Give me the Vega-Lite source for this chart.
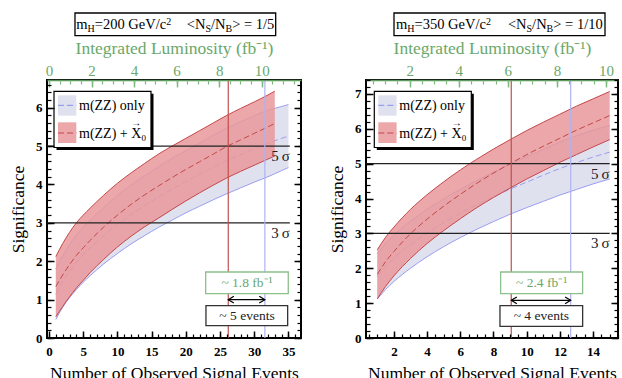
{
  "$schema": "https://vega.github.io/schema/vega-lite/v6.json",
  "background": "white",
  "padding": {"left": 8, "top": 11, "right": 0, "bottom": 0},
  "autosize": {"type": "pad"},
  "config": {
    "view": {"stroke": "black", "strokeWidth": 2},
    "font": "Liberation Serif",
    "axis": {"grid": false}
  },
  "datasets": {
    "left": [
      {"series": "m(ZZ) only", "n": 1, "lo": 0.48, "mid": 1.14, "hi": 1.80},
      {"series": "m(ZZ) only", "n": 2, "lo": 0.80, "mid": 1.47, "hi": 2.14},
      {"series": "m(ZZ) only", "n": 3, "lo": 1.05, "mid": 1.74, "hi": 2.43},
      {"series": "m(ZZ) only", "n": 4, "lo": 1.26, "mid": 1.97, "hi": 2.68},
      {"series": "m(ZZ) only", "n": 5, "lo": 1.45, "mid": 2.17, "hi": 2.88},
      {"series": "m(ZZ) only", "n": 6, "lo": 1.62, "mid": 2.34, "hi": 3.06},
      {"series": "m(ZZ) only", "n": 8, "lo": 1.93, "mid": 2.67, "hi": 3.40},
      {"series": "m(ZZ) only", "n": 10, "lo": 2.20, "mid": 2.96, "hi": 3.71},
      {"series": "m(ZZ) only", "n": 12, "lo": 2.45, "mid": 3.22, "hi": 3.99},
      {"series": "m(ZZ) only", "n": 14, "lo": 2.67, "mid": 3.45, "hi": 4.23},
      {"series": "m(ZZ) only", "n": 16, "lo": 2.88, "mid": 3.67, "hi": 4.46},
      {"series": "m(ZZ) only", "n": 18, "lo": 3.07, "mid": 3.88, "hi": 4.68},
      {"series": "m(ZZ) only", "n": 20, "lo": 3.26, "mid": 4.07, "hi": 4.88},
      {"series": "m(ZZ) only", "n": 22, "lo": 3.43, "mid": 4.26, "hi": 5.08},
      {"series": "m(ZZ) only", "n": 24, "lo": 3.60, "mid": 4.44, "hi": 5.28},
      {"series": "m(ZZ) only", "n": 26, "lo": 3.76, "mid": 4.62, "hi": 5.47},
      {"series": "m(ZZ) only", "n": 28, "lo": 3.91, "mid": 4.77, "hi": 5.63},
      {"series": "m(ZZ) only", "n": 30, "lo": 4.06, "mid": 4.93, "hi": 5.79},
      {"series": "m(ZZ) only", "n": 32, "lo": 4.20, "mid": 5.07, "hi": 5.93},
      {"series": "m(ZZ) only", "n": 34, "lo": 4.36, "mid": 5.20, "hi": 6.03},
      {"series": "m(ZZ) only", "n": 35, "lo": 4.44, "mid": 5.26, "hi": 6.08},
      {"series": "m(ZZ) + X\u20d7\u2080", "n": 1, "lo": 0.55, "mid": 1.34, "hi": 2.12},
      {"series": "m(ZZ) + X\u20d7\u2080", "n": 2, "lo": 0.82, "mid": 1.64, "hi": 2.46},
      {"series": "m(ZZ) + X\u20d7\u2080", "n": 3, "lo": 1.07, "mid": 1.91, "hi": 2.75},
      {"series": "m(ZZ) + X\u20d7\u2080", "n": 4, "lo": 1.30, "mid": 2.15, "hi": 3.00},
      {"series": "m(ZZ) + X\u20d7\u2080", "n": 5, "lo": 1.50, "mid": 2.35, "hi": 3.20},
      {"series": "m(ZZ) + X\u20d7\u2080", "n": 6, "lo": 1.70, "mid": 2.54, "hi": 3.38},
      {"series": "m(ZZ) + X\u20d7\u2080", "n": 8, "lo": 2.05, "mid": 2.89, "hi": 3.72},
      {"series": "m(ZZ) + X\u20d7\u2080", "n": 10, "lo": 2.37, "mid": 3.20, "hi": 4.03},
      {"series": "m(ZZ) + X\u20d7\u2080", "n": 12, "lo": 2.65, "mid": 3.48, "hi": 4.30},
      {"series": "m(ZZ) + X\u20d7\u2080", "n": 14, "lo": 2.90, "mid": 3.73, "hi": 4.55},
      {"series": "m(ZZ) + X\u20d7\u2080", "n": 16, "lo": 3.12, "mid": 3.96, "hi": 4.79},
      {"series": "m(ZZ) + X\u20d7\u2080", "n": 18, "lo": 3.35, "mid": 4.18, "hi": 5.00},
      {"series": "m(ZZ) + X\u20d7\u2080", "n": 20, "lo": 3.57, "mid": 4.39, "hi": 5.20},
      {"series": "m(ZZ) + X\u20d7\u2080", "n": 22, "lo": 3.78, "mid": 4.59, "hi": 5.40},
      {"series": "m(ZZ) + X\u20d7\u2080", "n": 24, "lo": 3.98, "mid": 4.79, "hi": 5.60},
      {"series": "m(ZZ) + X\u20d7\u2080", "n": 26, "lo": 4.17, "mid": 4.99, "hi": 5.80},
      {"series": "m(ZZ) + X\u20d7\u2080", "n": 28, "lo": 4.34, "mid": 5.16, "hi": 5.98},
      {"series": "m(ZZ) + X\u20d7\u2080", "n": 30, "lo": 4.50, "mid": 5.33, "hi": 6.15},
      {"series": "m(ZZ) + X\u20d7\u2080", "n": 32, "lo": 4.66, "mid": 5.50, "hi": 6.33},
      {"series": "m(ZZ) + X\u20d7\u2080", "n": 33, "lo": 4.74, "mid": 5.59, "hi": 6.43}
    ],
    "right": [
      {"series": "m(ZZ) only", "n": 1, "lo": 1.12, "mid": 1.77, "hi": 2.42},
      {"series": "m(ZZ) only", "n": 1.5, "lo": 1.39, "mid": 2.05, "hi": 2.71},
      {"series": "m(ZZ) only", "n": 2, "lo": 1.62, "mid": 2.29, "hi": 2.95},
      {"series": "m(ZZ) only", "n": 3, "lo": 2.00, "mid": 2.68, "hi": 3.35},
      {"series": "m(ZZ) only", "n": 4, "lo": 2.33, "mid": 3.01, "hi": 3.69},
      {"series": "m(ZZ) only", "n": 5, "lo": 2.62, "mid": 3.31, "hi": 3.99},
      {"series": "m(ZZ) only", "n": 6, "lo": 2.88, "mid": 3.58, "hi": 4.27},
      {"series": "m(ZZ) only", "n": 7, "lo": 3.12, "mid": 3.82, "hi": 4.52},
      {"series": "m(ZZ) only", "n": 8, "lo": 3.34, "mid": 4.05, "hi": 4.76},
      {"series": "m(ZZ) only", "n": 9, "lo": 3.55, "mid": 4.27, "hi": 4.99},
      {"series": "m(ZZ) only", "n": 10, "lo": 3.74, "mid": 4.47, "hi": 5.20},
      {"series": "m(ZZ) only", "n": 11, "lo": 3.92, "mid": 4.67, "hi": 5.41},
      {"series": "m(ZZ) only", "n": 12, "lo": 4.10, "mid": 4.86, "hi": 5.62},
      {"series": "m(ZZ) only", "n": 13, "lo": 4.26, "mid": 5.03, "hi": 5.80},
      {"series": "m(ZZ) only", "n": 14, "lo": 4.42, "mid": 5.19, "hi": 5.96},
      {"series": "m(ZZ) only", "n": 15, "lo": 4.56, "mid": 5.33, "hi": 6.10},
      {"series": "m(ZZ) + X\u20d7\u2080", "n": 1, "lo": 1.12, "mid": 1.83, "hi": 2.53},
      {"series": "m(ZZ) + X\u20d7\u2080", "n": 1.5, "lo": 1.48, "mid": 2.19, "hi": 2.89},
      {"series": "m(ZZ) + X\u20d7\u2080", "n": 2, "lo": 1.78, "mid": 2.48, "hi": 3.18},
      {"series": "m(ZZ) + X\u20d7\u2080", "n": 3, "lo": 2.28, "mid": 2.99, "hi": 3.69},
      {"series": "m(ZZ) + X\u20d7\u2080", "n": 4, "lo": 2.71, "mid": 3.41, "hi": 4.11},
      {"series": "m(ZZ) + X\u20d7\u2080", "n": 5, "lo": 3.08, "mid": 3.78, "hi": 4.48},
      {"series": "m(ZZ) + X\u20d7\u2080", "n": 6, "lo": 3.42, "mid": 4.12, "hi": 4.82},
      {"series": "m(ZZ) + X\u20d7\u2080", "n": 7, "lo": 3.74, "mid": 4.44, "hi": 5.13},
      {"series": "m(ZZ) + X\u20d7\u2080", "n": 8, "lo": 4.03, "mid": 4.73, "hi": 5.42},
      {"series": "m(ZZ) + X\u20d7\u2080", "n": 9, "lo": 4.30, "mid": 5.00, "hi": 5.69},
      {"series": "m(ZZ) + X\u20d7\u2080", "n": 10, "lo": 4.56, "mid": 5.26, "hi": 5.95},
      {"series": "m(ZZ) + X\u20d7\u2080", "n": 11, "lo": 4.80, "mid": 5.50, "hi": 6.19},
      {"series": "m(ZZ) + X\u20d7\u2080", "n": 12, "lo": 5.04, "mid": 5.73, "hi": 6.42},
      {"series": "m(ZZ) + X\u20d7\u2080", "n": 13, "lo": 5.26, "mid": 5.96, "hi": 6.65},
      {"series": "m(ZZ) + X\u20d7\u2080", "n": 14, "lo": 5.48, "mid": 6.17, "hi": 6.86},
      {"series": "m(ZZ) + X\u20d7\u2080", "n": 15, "lo": 5.69, "mid": 6.38, "hi": 7.07}
    ],
    "sigma_levels": [
      {"sigma": 3, "label": "3\u2009\u03c3"},
      {"sigma": 5, "label": "5\u2009\u03c3"}
    ],
    "left_marks": [
      {"series": "m(ZZ) + X\u20d7\u2080", "n": 26.2},
      {"series": "m(ZZ) only", "n": 31.55}
    ],
    "right_marks": [
      {"series": "m(ZZ) + X\u20d7\u2080", "n": 9.07},
      {"series": "m(ZZ) only", "n": 12.65}
    ]
  },
  "spacing": 65,
  "bounds": "flush",
  "resolve": {"scale": {"fill": "independent", "stroke": "independent"}},
  "hconcat": [
    {
      "width": 254,
      "height": 258,
      "layer": [
        {
          "layer": [
            {
              "data": {"name": "left"},
              "transform": [{"filter": "datum.series == 'm(ZZ) only'"}],
              "mark": {"type": "area", "interpolate": "monotone"},
              "encoding": {
                "x": {"field": "n", "type": "quantitative", "scale": {"domain": [-0.29, 36.83], "nice": false, "zero": false},
                  "axis": {"orient": "bottom", "values": [0, 5, 10, 15, 20, 25, 30, 35], "format": "d", "tickSize": -7, "tickWidth": 1.5, "tickColor": "black", "domain": false, "labelFont": "Liberation Serif", "labelFontSize": 13, "labelFontWeight": "bold", "labelColor": "black", "labelPadding": 14, "labelFlush": false, "labelOverlap": false, "title": "Number of Observed Signal Events", "titleFont": "Liberation Serif", "titleFontSize": 17.5, "titleFontWeight": "normal", "titleColor": "black", "titlePadding": 6, "grid": false, "zindex": 2}},
                "y": {"field": "lo", "type": "quantitative", "scale": {"domain": [0, 6.72], "nice": false, "zero": false},
                  "axis": {"orient": "left", "values": [0, 1, 2, 3, 4, 5, 6], "format": "d", "tickSize": -7, "tickWidth": 1.5, "tickColor": "black", "domain": false, "labelFont": "Liberation Serif", "labelFontSize": 13, "labelFontWeight": "bold", "labelColor": "black", "labelPadding": 12, "labelFlush": false, "labelOverlap": false, "title": "Significance", "titleFont": "Liberation Serif", "titleFontSize": 17.5, "titleFontWeight": "normal", "titleColor": "black", "titlePadding": 8, "grid": false, "zindex": 2}},
                "y2": {"field": "hi"},
                "fill": {"field": "series", "type": "nominal", "scale": {"domain": ["m(ZZ) only", "m(ZZ) + X\u20d7\u2080"], "range": ["#e0e1ef", "#e7989a"]}, "legend": null}
              }
            },
            {
              "data": {"name": "left"},
              "transform": [{"filter": "datum.series == 'm(ZZ) only'"}],
              "mark": {"type": "line", "interpolate": "monotone", "strokeWidth": 1},
              "encoding": {
                "x": {"field": "n", "type": "quantitative", "scale": {"domain": [-0.29, 36.83], "nice": false, "zero": false}, "axis": null},
                "y": {"field": "lo", "type": "quantitative", "scale": {"domain": [0, 6.72], "nice": false, "zero": false},
                  "axis": {"orient": "right", "values": [0, 1, 2, 3, 4, 5, 6], "tickSize": -7, "tickWidth": 1.5, "tickColor": "black", "domain": false, "labels": false, "title": null, "grid": false, "zindex": 2}},
                "stroke": {"field": "series", "type": "nominal", "scale": {"domain": ["m(ZZ) only", "m(ZZ) + X\u20d7\u2080"], "range": ["#9a9ef0", "#c4484a"]}, "legend": null}
              }
            },
            {
              "data": {"name": "left"},
              "transform": [{"filter": "datum.series == 'm(ZZ) only'"}],
              "mark": {"type": "line", "interpolate": "monotone", "strokeWidth": 1},
              "encoding": {
                "x": {"field": "n", "type": "quantitative", "scale": {"domain": [-0.29, 36.83], "nice": false, "zero": false}, "axis": null},
                "y": {"field": "hi", "type": "quantitative", "scale": {"domain": [0, 6.72], "nice": false, "zero": false},
                  "axis": {"orient": "right", "tickCount": 34, "tickSize": -4, "tickWidth": 1.2, "tickColor": "black", "domain": false, "labels": false, "title": null, "grid": false, "zindex": 2}},
                "stroke": {"field": "series", "type": "nominal", "scale": {"domain": ["m(ZZ) only", "m(ZZ) + X\u20d7\u2080"], "range": ["#9a9ef0", "#c4484a"]}, "legend": null}
              }
            },
            {
              "data": {"name": "left"},
              "transform": [{"filter": "datum.series == 'm(ZZ) only'"}],
              "mark": {"type": "line", "interpolate": "monotone", "strokeWidth": 1, "strokeDash": [6, 3]},
              "encoding": {
                "x": {"field": "n", "type": "quantitative", "scale": {"domain": [-0.29, 36.83], "nice": false, "zero": false}, "axis": null},
                "y": {"field": "mid", "type": "quantitative", "scale": {"domain": [0, 6.72], "nice": false, "zero": false}, "axis": null},
                "stroke": {"field": "series", "type": "nominal", "scale": {"domain": ["m(ZZ) only", "m(ZZ) + X\u20d7\u2080"], "range": ["#9a9ef0", "#c4484a"]}, "legend": null}
              }
            },
            {
              "data": {"name": "left"},
              "transform": [{"filter": "datum.series != 'm(ZZ) only'"}],
              "mark": {"type": "area", "interpolate": "monotone", "opacity": 0.85},
              "encoding": {
                "x": {"field": "n", "type": "quantitative", "scale": {"domain": [-0.29, 36.83], "nice": false, "zero": false},
                  "axis": {"orient": "bottom", "tickCount": 37, "tickSize": -4, "tickWidth": 1.2, "tickColor": "black", "domain": false, "labels": false, "title": null, "grid": false, "zindex": 2}},
                "y": {"field": "lo", "type": "quantitative", "scale": {"domain": [0, 6.72], "nice": false, "zero": false},
                  "axis": {"orient": "left", "tickCount": 34, "tickSize": -4, "tickWidth": 1.2, "tickColor": "black", "domain": false, "labels": false, "title": null, "grid": false, "zindex": 2}},
                "y2": {"field": "hi"},
                "fill": {"field": "series", "type": "nominal", "scale": {"domain": ["m(ZZ) only", "m(ZZ) + X\u20d7\u2080"], "range": ["#e0e1ef", "#e7989a"]}, "legend": null}
              }
            },
            {
              "data": {"name": "left"},
              "transform": [{"filter": "datum.series != 'm(ZZ) only'"}],
              "mark": {"type": "line", "interpolate": "monotone", "strokeWidth": 1},
              "encoding": {
                "x": {"field": "n", "type": "quantitative", "scale": {"domain": [-0.29, 36.83], "nice": false, "zero": false}, "axis": null},
                "y": {"field": "lo", "type": "quantitative", "scale": {"domain": [0, 6.72], "nice": false, "zero": false}, "axis": null},
                "stroke": {"field": "series", "type": "nominal", "scale": {"domain": ["m(ZZ) only", "m(ZZ) + X\u20d7\u2080"], "range": ["#9a9ef0", "#c4484a"]}, "legend": null}
              }
            },
            {
              "data": {"name": "left"},
              "transform": [{"filter": "datum.series != 'm(ZZ) only'"}],
              "mark": {"type": "line", "interpolate": "monotone", "strokeWidth": 1},
              "encoding": {
                "x": {"field": "n", "type": "quantitative", "scale": {"domain": [-0.29, 36.83], "nice": false, "zero": false}, "axis": null},
                "y": {"field": "hi", "type": "quantitative", "scale": {"domain": [0, 6.72], "nice": false, "zero": false}, "axis": null},
                "stroke": {"field": "series", "type": "nominal", "scale": {"domain": ["m(ZZ) only", "m(ZZ) + X\u20d7\u2080"], "range": ["#9a9ef0", "#c4484a"]}, "legend": null}
              }
            },
            {
              "data": {"name": "left"},
              "transform": [{"filter": "datum.series != 'm(ZZ) only'"}],
              "mark": {"type": "line", "interpolate": "monotone", "strokeWidth": 1, "strokeDash": [6, 3]},
              "encoding": {
                "x": {"field": "n", "type": "quantitative", "scale": {"domain": [-0.29, 36.83], "nice": false, "zero": false}, "axis": null},
                "y": {"field": "mid", "type": "quantitative", "scale": {"domain": [0, 6.72], "nice": false, "zero": false}, "axis": null},
                "stroke": {"field": "series", "type": "nominal", "scale": {"domain": ["m(ZZ) only", "m(ZZ) + X\u20d7\u2080"], "range": ["#9a9ef0", "#c4484a"]}, "legend": null}
              }
            },
            {
              "data": {"name": "sigma_levels"},
              "mark": {"type": "rule", "color": "#222222", "strokeWidth": 1.3},
              "encoding": {
                "x": {"datum": -0.29, "type": "quantitative", "scale": {"domain": [-0.29, 36.83], "nice": false, "zero": false}, "axis": null},
                "x2": {"datum": 35.2},
                "y": {"field": "sigma", "type": "quantitative", "scale": {"domain": [0, 6.72], "nice": false, "zero": false}, "axis": null}
              }
            },
            {
              "data": {"name": "sigma_levels"},
              "mark": {"type": "text", "align": "right", "baseline": "top", "dy": 3, "fontSize": 15, "font": "Liberation Serif", "color": "#222222"},
              "encoding": {
                "x": {"datum": 35.2, "type": "quantitative", "scale": {"domain": [-0.29, 36.83], "nice": false, "zero": false}, "axis": null},
                "y": {"field": "sigma", "type": "quantitative", "scale": {"domain": [0, 6.72], "nice": false, "zero": false}, "axis": null},
                "text": {"field": "label"}
              }
            },
            {
              "data": {"name": "left_marks"},
              "mark": {"type": "rule", "strokeWidth": 1.2},
              "encoding": {
                "x": {"field": "n", "type": "quantitative", "scale": {"domain": [-0.29, 36.83], "nice": false, "zero": false}, "axis": null},
                "stroke": {"condition": {"test": "datum.series == 'm(ZZ) only'", "value": "#aeb2f2"}, "value": "#c0504d"}
              }
            },
            {
              "data": {"values": [{}]},
              "mark": {"type": "rect", "fill": "white", "stroke": "#8cc08c", "strokeWidth": 1.3},
              "encoding": {
                "x": {"datum": 22.9, "type": "quantitative", "scale": {"domain": [-0.29, 36.83], "nice": false, "zero": false}, "axis": null},
                "x2": {"datum": 34.97},
                "y": {"datum": 1.154, "type": "quantitative", "scale": {"domain": [0, 6.72], "nice": false, "zero": false}, "axis": null},
                "y2": {"datum": 1.719}
              }
            },
            {
              "data": {"values": [{}]},
              "mark": {"type": "text", "text": "~ 1.8 fb\u207b\u00b9", "align": "center", "baseline": "middle", "fontSize": 13.5, "font": "Liberation Serif", "color": "#6aa86a"},
              "encoding": {
                "x": {"datum": 28.94, "type": "quantitative", "scale": {"domain": [-0.29, 36.83], "nice": false, "zero": false}, "axis": null},
                "y": {"datum": 1.432, "type": "quantitative", "scale": {"domain": [0, 6.72], "nice": false, "zero": false}, "axis": null}
              }
            },
            {
              "data": {"values": [{}]},
              "mark": {"type": "rule", "color": "black", "strokeWidth": 1.2},
              "encoding": {
                "x": {"datum": 26.2, "type": "quantitative", "scale": {"domain": [-0.29, 36.83], "nice": false, "zero": false}, "axis": null},
                "x2": {"datum": 31.55},
                "y": {"datum": 0.998, "type": "quantitative", "scale": {"domain": [0, 6.72], "nice": false, "zero": false}, "axis": null}
              }
            },
            {
              "data": {"values": [{}]},
              "mark": {"type": "point", "shape": "M1.4,-0.85L0,0L1.4,0.85", "size": 64, "filled": false, "stroke": "black", "strokeWidth": 1.2, "opacity": 1},
              "encoding": {
                "x": {"datum": 26.2, "type": "quantitative", "scale": {"domain": [-0.29, 36.83], "nice": false, "zero": false}, "axis": null},
                "y": {"datum": 0.998, "type": "quantitative", "scale": {"domain": [0, 6.72], "nice": false, "zero": false}, "axis": null}
              }
            },
            {
              "data": {"values": [{}]},
              "mark": {"type": "point", "shape": "M-1.4,-0.85L0,0L-1.4,0.85", "size": 64, "filled": false, "stroke": "black", "strokeWidth": 1.2, "opacity": 1},
              "encoding": {
                "x": {"datum": 31.55, "type": "quantitative", "scale": {"domain": [-0.29, 36.83], "nice": false, "zero": false}, "axis": null},
                "y": {"datum": 0.998, "type": "quantitative", "scale": {"domain": [0, 6.72], "nice": false, "zero": false}, "axis": null}
              }
            },
            {
              "data": {"values": [{}]},
              "mark": {"type": "rect", "fill": "white", "stroke": "#333333", "strokeWidth": 1.3},
              "encoding": {
                "x": {"datum": 22.94, "type": "quantitative", "scale": {"domain": [-0.29, 36.83], "nice": false, "zero": false}, "axis": null},
                "x2": {"datum": 34.88},
                "y": {"datum": 0.321, "type": "quantitative", "scale": {"domain": [0, 6.72], "nice": false, "zero": false}, "axis": null},
                "y2": {"datum": 0.842}
              }
            },
            {
              "data": {"values": [{}]},
              "mark": {"type": "text", "text": "~ 5 events", "align": "center", "baseline": "middle", "fontSize": 13.5, "font": "Liberation Serif", "color": "#222222"},
              "encoding": {
                "x": {"datum": 28.94, "type": "quantitative", "scale": {"domain": [-0.29, 36.83], "nice": false, "zero": false}, "axis": null},
                "y": {"datum": 0.574, "type": "quantitative", "scale": {"domain": [0, 6.72], "nice": false, "zero": false}, "axis": null}
              }
            },
            {
              "data": {"values": [{}]},
              "mark": {"type": "rect", "fill": "black"},
              "encoding": {
                "x": {"datum": 1.098, "type": "quantitative", "scale": {"domain": [-0.29, 36.83], "nice": false, "zero": false}, "axis": null},
                "x2": {"datum": 15.273},
                "y": {"datum": 4.897, "type": "quantitative", "scale": {"domain": [0, 6.72], "nice": false, "zero": false}, "axis": null},
                "y2": {"datum": 6.361}
              }
            },
            {
              "data": {"values": [{}]},
              "mark": {"type": "rect", "fill": "white", "stroke": "black", "strokeWidth": 1.2},
              "encoding": {
                "x": {"datum": 0.733, "type": "quantitative", "scale": {"domain": [-0.29, 36.83], "nice": false, "zero": false}, "axis": null},
                "x2": {"datum": 14.908},
                "y": {"datum": 4.962, "type": "quantitative", "scale": {"domain": [0, 6.72], "nice": false, "zero": false}, "axis": null},
                "y2": {"datum": 6.426}
              }
            },
            {
              "data": {"values": [{}]},
              "mark": {"type": "rect", "fill": "#e0e1ef"},
              "encoding": {
                "x": {"datum": 1.317, "type": "quantitative", "scale": {"domain": [-0.29, 36.83], "nice": false, "zero": false}, "axis": null},
                "x2": {"datum": 3.992},
                "y": {"datum": 5.79, "type": "quantitative", "scale": {"domain": [0, 6.72], "nice": false, "zero": false}, "axis": null},
                "y2": {"datum": 6.321}
              }
            },
            {
              "data": {"values": [{}]},
              "mark": {"type": "rect", "fill": "#e7989a", "opacity": 0.85},
              "encoding": {
                "x": {"datum": 1.317, "type": "quantitative", "scale": {"domain": [-0.29, 36.83], "nice": false, "zero": false}, "axis": null},
                "x2": {"datum": 3.992},
                "y": {"datum": 5.079, "type": "quantitative", "scale": {"domain": [0, 6.72], "nice": false, "zero": false}, "axis": null},
                "y2": {"datum": 5.618}
              }
            },
            {
              "data": {"values": [{}]},
              "mark": {"type": "rule", "stroke": "#9a9ef0", "strokeWidth": 1.2, "strokeDash": [6, 3]},
              "encoding": {
                "x": {"datum": 1.317, "type": "quantitative", "scale": {"domain": [-0.29, 36.83], "nice": false, "zero": false}, "axis": null},
                "x2": {"datum": 3.992},
                "y": {"datum": 6.061, "type": "quantitative", "scale": {"domain": [0, 6.72], "nice": false, "zero": false}, "axis": null}
              }
            },
            {
              "data": {"values": [{}]},
              "mark": {"type": "rule", "stroke": "#c4484a", "strokeWidth": 1.2, "strokeDash": [6, 3]},
              "encoding": {
                "x": {"datum": 1.317, "type": "quantitative", "scale": {"domain": [-0.29, 36.83], "nice": false, "zero": false}, "axis": null},
                "x2": {"datum": 3.992},
                "y": {"datum": 5.339, "type": "quantitative", "scale": {"domain": [0, 6.72], "nice": false, "zero": false}, "axis": null}
              }
            },
            {
              "data": {"values": [{}]},
              "mark": {"type": "text", "text": "m(ZZ) only", "align": "left", "baseline": "alphabetic", "fontSize": 14, "font": "Liberation Serif", "color": "black"},
              "encoding": {
                "x": {"datum": 4.386, "type": "quantitative", "scale": {"domain": [-0.29, 36.83], "nice": false, "zero": false}, "axis": null},
                "y": {"datum": 5.946, "type": "quantitative", "scale": {"domain": [0, 6.72], "nice": false, "zero": false}, "axis": null}
              }
            },
            {
              "data": {"values": [{}]},
              "mark": {"type": "text", "text": "m(ZZ) + X", "align": "left", "baseline": "alphabetic", "fontSize": 14, "font": "Liberation Serif", "color": "black"},
              "encoding": {
                "x": {"datum": 4.386, "type": "quantitative", "scale": {"domain": [-0.29, 36.83], "nice": false, "zero": false}, "axis": null},
                "y": {"datum": 5.209, "type": "quantitative", "scale": {"domain": [0, 6.72], "nice": false, "zero": false}, "axis": null}
              }
            },
            {
              "data": {"values": [{}]},
              "mark": {"type": "text", "text": "\u2192", "align": "center", "baseline": "alphabetic", "fontSize": 10, "font": "Liberation Serif", "color": "black"},
              "encoding": {
                "x": {"datum": 12.745, "type": "quantitative", "scale": {"domain": [-0.29, 36.83], "nice": false, "zero": false}, "axis": null},
                "y": {"datum": 5.52, "type": "quantitative", "scale": {"domain": [0, 6.72], "nice": false, "zero": false}, "axis": null}
              }
            },
            {
              "data": {"values": [{}]},
              "mark": {"type": "text", "text": "0", "align": "left", "baseline": "alphabetic", "fontSize": 9, "font": "Liberation Serif", "color": "black"},
              "encoding": {
                "x": {"datum": 13.52, "type": "quantitative", "scale": {"domain": [-0.29, 36.83], "nice": false, "zero": false}, "axis": null},
                "y": {"datum": 5.131, "type": "quantitative", "scale": {"domain": [0, 6.72], "nice": false, "zero": false}, "axis": null}
              }
            },
            {
              "data": {"values": [{}]},
              "mark": {"type": "rect", "fill": "white", "stroke": "black", "strokeWidth": 1.3, "clip": false},
              "encoding": {
                "x": {"datum": 3.8, "type": "quantitative", "scale": {"domain": [-0.29, 36.83], "nice": false, "zero": false}, "axis": null},
                "x2": {"datum": 33.13},
                "y": {"datum": 7.874, "type": "quantitative", "scale": {"domain": [0, 6.72], "nice": false, "zero": false}, "axis": null},
                "y2": {"datum": 8.465}
              }
            },
            {"data": {"values": [{}]}, "mark": {"type": "text", "text": "m", "align": "left", "baseline": "alphabetic", "fontSize": 14.5, "font": "Liberation Serif", "color": "black", "clip": false},
              "encoding": {"x": {"datum": 3.99, "type": "quantitative", "scale": {"domain": [-0.29, 36.83], "nice": false, "zero": false}, "axis": null}, "y": {"datum": 8.048, "type": "quantitative", "scale": {"domain": [0, 6.72], "nice": false, "zero": false}, "axis": null}}},
            {"data": {"values": [{}]}, "mark": {"type": "text", "text": "H", "align": "left", "baseline": "alphabetic", "fontSize": 10, "font": "Liberation Serif", "color": "black", "clip": false},
              "encoding": {"x": {"datum": 5.64, "type": "quantitative", "scale": {"domain": [-0.29, 36.83], "nice": false, "zero": false}, "axis": null}, "y": {"datum": 7.962, "type": "quantitative", "scale": {"domain": [0, 6.72], "nice": false, "zero": false}, "axis": null}}},
            {"data": {"values": [{}]}, "mark": {"type": "text", "text": "=200 GeV/c", "align": "left", "baseline": "alphabetic", "fontSize": 14.5, "font": "Liberation Serif", "color": "black", "clip": false},
              "encoding": {"x": {"datum": 6.69, "type": "quantitative", "scale": {"domain": [-0.29, 36.83], "nice": false, "zero": false}, "axis": null}, "y": {"datum": 8.048, "type": "quantitative", "scale": {"domain": [0, 6.72], "nice": false, "zero": false}, "axis": null}}},
            {"data": {"values": [{}]}, "mark": {"type": "text", "text": "2", "align": "left", "baseline": "alphabetic", "fontSize": 10, "font": "Liberation Serif", "color": "black", "clip": false},
              "encoding": {"x": {"datum": 17.13, "type": "quantitative", "scale": {"domain": [-0.29, 36.83], "nice": false, "zero": false}, "axis": null}, "y": {"datum": 8.153, "type": "quantitative", "scale": {"domain": [0, 6.72], "nice": false, "zero": false}, "axis": null}}},
            {"data": {"values": [{}]}, "mark": {"type": "text", "text": "<N", "align": "left", "baseline": "alphabetic", "fontSize": 14.5, "font": "Liberation Serif", "color": "black", "clip": false},
              "encoding": {"x": {"datum": 20.14, "type": "quantitative", "scale": {"domain": [-0.29, 36.83], "nice": false, "zero": false}, "axis": null}, "y": {"datum": 8.048, "type": "quantitative", "scale": {"domain": [0, 6.72], "nice": false, "zero": false}, "axis": null}}},
            {"data": {"values": [{}]}, "mark": {"type": "text", "text": "S", "align": "left", "baseline": "alphabetic", "fontSize": 10, "font": "Liberation Serif", "color": "black", "clip": false},
              "encoding": {"x": {"datum": 22.86, "type": "quantitative", "scale": {"domain": [-0.29, 36.83], "nice": false, "zero": false}, "axis": null}, "y": {"datum": 7.962, "type": "quantitative", "scale": {"domain": [0, 6.72], "nice": false, "zero": false}, "axis": null}}},
            {"data": {"values": [{}]}, "mark": {"type": "text", "text": "/N", "align": "left", "baseline": "alphabetic", "fontSize": 14.5, "font": "Liberation Serif", "color": "black", "clip": false},
              "encoding": {"x": {"datum": 23.67, "type": "quantitative", "scale": {"domain": [-0.29, 36.83], "nice": false, "zero": false}, "axis": null}, "y": {"datum": 8.048, "type": "quantitative", "scale": {"domain": [0, 6.72], "nice": false, "zero": false}, "axis": null}}},
            {"data": {"values": [{}]}, "mark": {"type": "text", "text": "B", "align": "left", "baseline": "alphabetic", "fontSize": 10, "font": "Liberation Serif", "color": "black", "clip": false},
              "encoding": {"x": {"datum": 25.79, "type": "quantitative", "scale": {"domain": [-0.29, 36.83], "nice": false, "zero": false}, "axis": null}, "y": {"datum": 7.962, "type": "quantitative", "scale": {"domain": [0, 6.72], "nice": false, "zero": false}, "axis": null}}},
            {"data": {"values": [{}]}, "mark": {"type": "text", "text": "> = 1/5", "align": "left", "baseline": "alphabetic", "fontSize": 14.5, "font": "Liberation Serif", "color": "black", "clip": false},
              "encoding": {"x": {"datum": 26.77, "type": "quantitative", "scale": {"domain": [-0.29, 36.83], "nice": false, "zero": false}, "axis": null}, "y": {"datum": 8.048, "type": "quantitative", "scale": {"domain": [0, 6.72], "nice": false, "zero": false}, "axis": null}}}
          ],
          "resolve": {"axis": {"x": "independent", "y": "independent"}}
        },
        {
          "data": {"values": [{}]},
          "mark": {"type": "rule", "opacity": 0},
          "encoding": {
            "x": {"datum": 2, "type": "quantitative", "scale": {"domain": [-0.094, 11.85], "nice": false, "zero": false},
              "axis": {"orient": "top", "values": [0, 2, 4, 6, 8, 10], "format": "d", "tickSize": -7, "tickWidth": 1.5, "tickColor": "#7dba7d", "domain": true, "domainColor": "#5e9a5e", "domainWidth": 1.5, "labelFont": "Liberation Serif", "labelFontSize": 15, "labelFontWeight": "normal", "labelColor": "#6aa86a", "labelPadding": 9, "labelFlush": false, "labelOverlap": false, "title": "Integrated Luminosity (fb\u207b\u00b9)", "titleFont": "Liberation Serif", "titleFontSize": 17.5, "titleFontWeight": "normal", "titleColor": "#6aa86a", "titlePadding": 6, "grid": false, "zindex": 2}}
          }
        },
        {
          "data": {"values": [{}]},
          "mark": {"type": "rule", "opacity": 0},
          "encoding": {
            "x": {"datum": 2, "type": "quantitative", "scale": {"domain": [-0.094, 11.85], "nice": false, "zero": false},
              "axis": {"orient": "top", "tickCount": 24, "tickSize": -4, "tickWidth": 1.2, "tickColor": "#7dba7d", "domain": false, "labels": false, "title": null, "grid": false, "zindex": 2}}
          }
        }
      ],
      "resolve": {"scale": {"x": "independent"}, "axis": {"x": "independent", "y": "independent"}}
    },
    {
      "width": 252,
      "height": 258,
      "layer": [
        {
          "layer": [
            {
              "data": {"name": "right"},
              "transform": [{"filter": "datum.series == 'm(ZZ) only'"}],
              "mark": {"type": "area", "interpolate": "monotone"},
              "encoding": {
                "x": {"field": "n", "type": "quantitative", "scale": {"domain": [0.32, 15.5], "nice": false, "zero": false},
                  "axis": {"orient": "bottom", "values": [2, 4, 6, 8, 10, 12, 14], "format": "d", "tickSize": -7, "tickWidth": 1.5, "tickColor": "black", "domain": false, "labelFont": "Liberation Serif", "labelFontSize": 13, "labelFontWeight": "bold", "labelColor": "black", "labelPadding": 14, "labelFlush": false, "labelOverlap": false, "title": "Number of Observed Signal Events", "titleFont": "Liberation Serif", "titleFontSize": 17.5, "titleFontWeight": "normal", "titleColor": "black", "titlePadding": 6, "grid": false, "zindex": 2}},
                "y": {"field": "lo", "type": "quantitative", "scale": {"domain": [0, 7.4], "nice": false, "zero": false},
                  "axis": {"orient": "left", "values": [0, 1, 2, 3, 4, 5, 6, 7], "format": "d", "tickSize": -7, "tickWidth": 1.5, "tickColor": "black", "domain": false, "labelFont": "Liberation Serif", "labelFontSize": 13, "labelFontWeight": "bold", "labelColor": "black", "labelPadding": 12, "labelFlush": false, "labelOverlap": false, "title": "Significance", "titleFont": "Liberation Serif", "titleFontSize": 17.5, "titleFontWeight": "normal", "titleColor": "black", "titlePadding": 8, "grid": false, "zindex": 2}},
                "y2": {"field": "hi"},
                "fill": {"field": "series", "type": "nominal", "scale": {"domain": ["m(ZZ) only", "m(ZZ) + X\u20d7\u2080"], "range": ["#e0e1ef", "#e7989a"]}, "legend": null}
              }
            },
            {
              "data": {"name": "right"},
              "transform": [{"filter": "datum.series == 'm(ZZ) only'"}],
              "mark": {"type": "line", "interpolate": "monotone", "strokeWidth": 1},
              "encoding": {
                "x": {"field": "n", "type": "quantitative", "scale": {"domain": [0.32, 15.5], "nice": false, "zero": false}, "axis": null},
                "y": {"field": "lo", "type": "quantitative", "scale": {"domain": [0, 7.4], "nice": false, "zero": false},
                  "axis": {"orient": "right", "values": [0, 1, 2, 3, 4, 5, 6, 7], "tickSize": -7, "tickWidth": 1.5, "tickColor": "black", "domain": false, "labels": false, "title": null, "grid": false, "zindex": 2}},
                "stroke": {"field": "series", "type": "nominal", "scale": {"domain": ["m(ZZ) only", "m(ZZ) + X\u20d7\u2080"], "range": ["#9a9ef0", "#c4484a"]}, "legend": null}
              }
            },
            {
              "data": {"name": "right"},
              "transform": [{"filter": "datum.series == 'm(ZZ) only'"}],
              "mark": {"type": "line", "interpolate": "monotone", "strokeWidth": 1},
              "encoding": {
                "x": {"field": "n", "type": "quantitative", "scale": {"domain": [0.32, 15.5], "nice": false, "zero": false}, "axis": null},
                "y": {"field": "hi", "type": "quantitative", "scale": {"domain": [0, 7.4], "nice": false, "zero": false},
                  "axis": {"orient": "right", "tickCount": 37, "tickSize": -4, "tickWidth": 1.2, "tickColor": "black", "domain": false, "labels": false, "title": null, "grid": false, "zindex": 2}},
                "stroke": {"field": "series", "type": "nominal", "scale": {"domain": ["m(ZZ) only", "m(ZZ) + X\u20d7\u2080"], "range": ["#9a9ef0", "#c4484a"]}, "legend": null}
              }
            },
            {
              "data": {"name": "right"},
              "transform": [{"filter": "datum.series == 'm(ZZ) only'"}],
              "mark": {"type": "line", "interpolate": "monotone", "strokeWidth": 1, "strokeDash": [6, 3]},
              "encoding": {
                "x": {"field": "n", "type": "quantitative", "scale": {"domain": [0.32, 15.5], "nice": false, "zero": false}, "axis": null},
                "y": {"field": "mid", "type": "quantitative", "scale": {"domain": [0, 7.4], "nice": false, "zero": false}, "axis": null},
                "stroke": {"field": "series", "type": "nominal", "scale": {"domain": ["m(ZZ) only", "m(ZZ) + X\u20d7\u2080"], "range": ["#9a9ef0", "#c4484a"]}, "legend": null}
              }
            },
            {
              "data": {"name": "right"},
              "transform": [{"filter": "datum.series != 'm(ZZ) only'"}],
              "mark": {"type": "area", "interpolate": "monotone", "opacity": 0.85},
              "encoding": {
                "x": {"field": "n", "type": "quantitative", "scale": {"domain": [0.32, 15.5], "nice": false, "zero": false},
                  "axis": {"orient": "bottom", "tickCount": 30, "tickSize": -4, "tickWidth": 1.2, "tickColor": "black", "domain": false, "labels": false, "title": null, "grid": false, "zindex": 2}},
                "y": {"field": "lo", "type": "quantitative", "scale": {"domain": [0, 7.4], "nice": false, "zero": false},
                  "axis": {"orient": "left", "tickCount": 37, "tickSize": -4, "tickWidth": 1.2, "tickColor": "black", "domain": false, "labels": false, "title": null, "grid": false, "zindex": 2}},
                "y2": {"field": "hi"},
                "fill": {"field": "series", "type": "nominal", "scale": {"domain": ["m(ZZ) only", "m(ZZ) + X\u20d7\u2080"], "range": ["#e0e1ef", "#e7989a"]}, "legend": null}
              }
            },
            {
              "data": {"name": "right"},
              "transform": [{"filter": "datum.series != 'm(ZZ) only'"}],
              "mark": {"type": "line", "interpolate": "monotone", "strokeWidth": 1},
              "encoding": {
                "x": {"field": "n", "type": "quantitative", "scale": {"domain": [0.32, 15.5], "nice": false, "zero": false}, "axis": null},
                "y": {"field": "lo", "type": "quantitative", "scale": {"domain": [0, 7.4], "nice": false, "zero": false}, "axis": null},
                "stroke": {"field": "series", "type": "nominal", "scale": {"domain": ["m(ZZ) only", "m(ZZ) + X\u20d7\u2080"], "range": ["#9a9ef0", "#c4484a"]}, "legend": null}
              }
            },
            {
              "data": {"name": "right"},
              "transform": [{"filter": "datum.series != 'm(ZZ) only'"}],
              "mark": {"type": "line", "interpolate": "monotone", "strokeWidth": 1},
              "encoding": {
                "x": {"field": "n", "type": "quantitative", "scale": {"domain": [0.32, 15.5], "nice": false, "zero": false}, "axis": null},
                "y": {"field": "hi", "type": "quantitative", "scale": {"domain": [0, 7.4], "nice": false, "zero": false}, "axis": null},
                "stroke": {"field": "series", "type": "nominal", "scale": {"domain": ["m(ZZ) only", "m(ZZ) + X\u20d7\u2080"], "range": ["#9a9ef0", "#c4484a"]}, "legend": null}
              }
            },
            {
              "data": {"name": "right"},
              "transform": [{"filter": "datum.series != 'm(ZZ) only'"}],
              "mark": {"type": "line", "interpolate": "monotone", "strokeWidth": 1, "strokeDash": [6, 3]},
              "encoding": {
                "x": {"field": "n", "type": "quantitative", "scale": {"domain": [0.32, 15.5], "nice": false, "zero": false}, "axis": null},
                "y": {"field": "mid", "type": "quantitative", "scale": {"domain": [0, 7.4], "nice": false, "zero": false}, "axis": null},
                "stroke": {"field": "series", "type": "nominal", "scale": {"domain": ["m(ZZ) only", "m(ZZ) + X\u20d7\u2080"], "range": ["#9a9ef0", "#c4484a"]}, "legend": null}
              }
            },
            {
              "data": {"name": "sigma_levels"},
              "mark": {"type": "rule", "color": "#222222", "strokeWidth": 1.3},
              "encoding": {
                "x": {"datum": 0.32, "type": "quantitative", "scale": {"domain": [0.32, 15.5], "nice": false, "zero": false}, "axis": null},
                "x2": {"datum": 15.0},
                "y": {"field": "sigma", "type": "quantitative", "scale": {"domain": [0, 7.4], "nice": false, "zero": false}, "axis": null}
              }
            },
            {
              "data": {"name": "sigma_levels"},
              "mark": {"type": "text", "align": "right", "baseline": "top", "dy": 3, "fontSize": 15, "font": "Liberation Serif", "color": "#222222"},
              "encoding": {
                "x": {"datum": 15.0, "type": "quantitative", "scale": {"domain": [0.32, 15.5], "nice": false, "zero": false}, "axis": null},
                "y": {"field": "sigma", "type": "quantitative", "scale": {"domain": [0, 7.4], "nice": false, "zero": false}, "axis": null},
                "text": {"field": "label"}
              }
            },
            {
              "data": {"name": "right_marks"},
              "mark": {"type": "rule", "strokeWidth": 1.2},
              "encoding": {
                "x": {"field": "n", "type": "quantitative", "scale": {"domain": [0.32, 15.5], "nice": false, "zero": false}, "axis": null},
                "stroke": {"condition": {"test": "datum.series == 'm(ZZ) only'", "value": "#aeb2f2"}, "value": "#c0504d"}
              }
            },
            {
              "data": {"values": [{}]},
              "mark": {"type": "rect", "fill": "white", "stroke": "#8cc08c", "strokeWidth": 1.3},
              "encoding": {
                "x": {"datum": 8.43, "type": "quantitative", "scale": {"domain": [0.32, 15.5], "nice": false, "zero": false}, "axis": null},
                "x2": {"datum": 13.37},
                "y": {"datum": 1.271, "type": "quantitative", "scale": {"domain": [0, 7.4], "nice": false, "zero": false}, "axis": null},
                "y2": {"datum": 1.893}
              }
            },
            {
              "data": {"values": [{}]},
              "mark": {"type": "text", "text": "~ 2.4 fb\u207b\u00b9", "align": "center", "baseline": "middle", "fontSize": 13.5, "font": "Liberation Serif", "color": "#6aa86a"},
              "encoding": {
                "x": {"datum": 10.9, "type": "quantitative", "scale": {"domain": [0.32, 15.5], "nice": false, "zero": false}, "axis": null},
                "y": {"datum": 1.578, "type": "quantitative", "scale": {"domain": [0, 7.4], "nice": false, "zero": false}, "axis": null}
              }
            },
            {
              "data": {"values": [{}]},
              "mark": {"type": "rule", "color": "black", "strokeWidth": 1.2},
              "encoding": {
                "x": {"datum": 9.07, "type": "quantitative", "scale": {"domain": [0.32, 15.5], "nice": false, "zero": false}, "axis": null},
                "x2": {"datum": 12.65},
                "y": {"datum": 1.081, "type": "quantitative", "scale": {"domain": [0, 7.4], "nice": false, "zero": false}, "axis": null}
              }
            },
            {
              "data": {"values": [{}]},
              "mark": {"type": "point", "shape": "M1.4,-0.85L0,0L1.4,0.85", "size": 64, "filled": false, "stroke": "black", "strokeWidth": 1.2, "opacity": 1},
              "encoding": {
                "x": {"datum": 9.07, "type": "quantitative", "scale": {"domain": [0.32, 15.5], "nice": false, "zero": false}, "axis": null},
                "y": {"datum": 1.081, "type": "quantitative", "scale": {"domain": [0, 7.4], "nice": false, "zero": false}, "axis": null}
              }
            },
            {
              "data": {"values": [{}]},
              "mark": {"type": "point", "shape": "M-1.4,-0.85L0,0L-1.4,0.85", "size": 64, "filled": false, "stroke": "black", "strokeWidth": 1.2, "opacity": 1},
              "encoding": {
                "x": {"datum": 12.65, "type": "quantitative", "scale": {"domain": [0.32, 15.5], "nice": false, "zero": false}, "axis": null},
                "y": {"datum": 1.081, "type": "quantitative", "scale": {"domain": [0, 7.4], "nice": false, "zero": false}, "axis": null}
              }
            },
            {
              "data": {"values": [{}]},
              "mark": {"type": "rect", "fill": "white", "stroke": "#333333", "strokeWidth": 1.3},
              "encoding": {
                "x": {"datum": 8.39, "type": "quantitative", "scale": {"domain": [0.32, 15.5], "nice": false, "zero": false}, "axis": null},
                "x2": {"datum": 13.37},
                "y": {"datum": 0.336, "type": "quantitative", "scale": {"domain": [0, 7.4], "nice": false, "zero": false}, "axis": null},
                "y2": {"datum": 0.926}
              }
            },
            {
              "data": {"values": [{}]},
              "mark": {"type": "text", "text": "~ 4 events", "align": "center", "baseline": "middle", "fontSize": 13.5, "font": "Liberation Serif", "color": "#222222"},
              "encoding": {
                "x": {"datum": 10.88, "type": "quantitative", "scale": {"domain": [0.32, 15.5], "nice": false, "zero": false}, "axis": null},
                "y": {"datum": 0.631, "type": "quantitative", "scale": {"domain": [0, 7.4], "nice": false, "zero": false}, "axis": null}
              }
            },
            {
              "data": {"values": [{}]},
              "mark": {"type": "rect", "fill": "black"},
              "encoding": {
                "x": {"datum": 0.971, "type": "quantitative", "scale": {"domain": [0.32, 15.5], "nice": false, "zero": false}, "axis": null},
                "x2": {"datum": 6.814},
                "y": {"datum": 5.392, "type": "quantitative", "scale": {"domain": [0, 7.4], "nice": false, "zero": false}, "axis": null},
                "y2": {"datum": 7.004}
              }
            },
            {
              "data": {"values": [{}]},
              "mark": {"type": "rect", "fill": "white", "stroke": "black", "strokeWidth": 1.2},
              "encoding": {
                "x": {"datum": 0.82, "type": "quantitative", "scale": {"domain": [0.32, 15.5], "nice": false, "zero": false}, "axis": null},
                "x2": {"datum": 6.663},
                "y": {"datum": 5.464, "type": "quantitative", "scale": {"domain": [0, 7.4], "nice": false, "zero": false}, "axis": null},
                "y2": {"datum": 7.076}
              }
            },
            {
              "data": {"values": [{}]},
              "mark": {"type": "rect", "fill": "#e0e1ef"},
              "encoding": {
                "x": {"datum": 1.061, "type": "quantitative", "scale": {"domain": [0.32, 15.5], "nice": false, "zero": false}, "axis": null},
                "x2": {"datum": 2.163},
                "y": {"datum": 6.376, "type": "quantitative", "scale": {"domain": [0, 7.4], "nice": false, "zero": false}, "axis": null},
                "y2": {"datum": 6.961}
              }
            },
            {
              "data": {"values": [{}]},
              "mark": {"type": "rect", "fill": "#e7989a", "opacity": 0.85},
              "encoding": {
                "x": {"datum": 1.061, "type": "quantitative", "scale": {"domain": [0.32, 15.5], "nice": false, "zero": false}, "axis": null},
                "x2": {"datum": 2.163},
                "y": {"datum": 5.593, "type": "quantitative", "scale": {"domain": [0, 7.4], "nice": false, "zero": false}, "axis": null},
                "y2": {"datum": 6.187}
              }
            },
            {
              "data": {"values": [{}]},
              "mark": {"type": "rule", "stroke": "#9a9ef0", "strokeWidth": 1.2, "strokeDash": [6, 3]},
              "encoding": {
                "x": {"datum": 1.061, "type": "quantitative", "scale": {"domain": [0.32, 15.5], "nice": false, "zero": false}, "axis": null},
                "x2": {"datum": 2.163},
                "y": {"datum": 6.674, "type": "quantitative", "scale": {"domain": [0, 7.4], "nice": false, "zero": false}, "axis": null}
              }
            },
            {
              "data": {"values": [{}]},
              "mark": {"type": "rule", "stroke": "#c4484a", "strokeWidth": 1.2, "strokeDash": [6, 3]},
              "encoding": {
                "x": {"datum": 1.061, "type": "quantitative", "scale": {"domain": [0.32, 15.5], "nice": false, "zero": false}, "axis": null},
                "x2": {"datum": 2.163},
                "y": {"datum": 5.88, "type": "quantitative", "scale": {"domain": [0, 7.4], "nice": false, "zero": false}, "axis": null}
              }
            },
            {
              "data": {"values": [{}]},
              "mark": {"type": "text", "text": "m(ZZ) only", "align": "left", "baseline": "alphabetic", "fontSize": 14, "font": "Liberation Serif", "color": "black"},
              "encoding": {
                "x": {"datum": 2.326, "type": "quantitative", "scale": {"domain": [0.32, 15.5], "nice": false, "zero": false}, "axis": null},
                "y": {"datum": 6.548, "type": "quantitative", "scale": {"domain": [0, 7.4], "nice": false, "zero": false}, "axis": null}
              }
            },
            {
              "data": {"values": [{}]},
              "mark": {"type": "text", "text": "m(ZZ) + X", "align": "left", "baseline": "alphabetic", "fontSize": 14, "font": "Liberation Serif", "color": "black"},
              "encoding": {
                "x": {"datum": 2.326, "type": "quantitative", "scale": {"domain": [0.32, 15.5], "nice": false, "zero": false}, "axis": null},
                "y": {"datum": 5.736, "type": "quantitative", "scale": {"domain": [0, 7.4], "nice": false, "zero": false}, "axis": null}
              }
            },
            {
              "data": {"values": [{}]},
              "mark": {"type": "text", "text": "\u2192", "align": "center", "baseline": "alphabetic", "fontSize": 10, "font": "Liberation Serif", "color": "black"},
              "encoding": {
                "x": {"datum": 5.78, "type": "quantitative", "scale": {"domain": [0.32, 15.5], "nice": false, "zero": false}, "axis": null},
                "y": {"datum": 6.08, "type": "quantitative", "scale": {"domain": [0, 7.4], "nice": false, "zero": false}, "axis": null}
              }
            },
            {
              "data": {"values": [{}]},
              "mark": {"type": "text", "text": "0", "align": "left", "baseline": "alphabetic", "fontSize": 9, "font": "Liberation Serif", "color": "black"},
              "encoding": {
                "x": {"datum": 6.091, "type": "quantitative", "scale": {"domain": [0.32, 15.5], "nice": false, "zero": false}, "axis": null},
                "y": {"datum": 5.65, "type": "quantitative", "scale": {"domain": [0, 7.4], "nice": false, "zero": false}, "axis": null}
              }
            },
            {
              "data": {"values": [{}]},
              "mark": {"type": "rect", "fill": "white", "stroke": "black", "strokeWidth": 1.3, "clip": false},
              "encoding": {
                "x": {"datum": 2.007, "type": "quantitative", "scale": {"domain": [0.32, 15.5], "nice": false, "zero": false}, "axis": null},
                "x2": {"datum": 14.717},
                "y": {"datum": 8.671, "type": "quantitative", "scale": {"domain": [0, 7.4], "nice": false, "zero": false}, "axis": null},
                "y2": {"datum": 9.322}
              }
            },
            {"data": {"values": [{}]}, "mark": {"type": "text", "text": "m", "align": "left", "baseline": "alphabetic", "fontSize": 14.5, "font": "Liberation Serif", "color": "black", "clip": false},
              "encoding": {"x": {"datum": 2.127, "type": "quantitative", "scale": {"domain": [0.32, 15.5], "nice": false, "zero": false}, "axis": null}, "y": {"datum": 8.863, "type": "quantitative", "scale": {"domain": [0, 7.4], "nice": false, "zero": false}, "axis": null}}},
            {"data": {"values": [{}]}, "mark": {"type": "text", "text": "H", "align": "left", "baseline": "alphabetic", "fontSize": 10, "font": "Liberation Serif", "color": "black", "clip": false},
              "encoding": {"x": {"datum": 2.808, "type": "quantitative", "scale": {"domain": [0.32, 15.5], "nice": false, "zero": false}, "axis": null}, "y": {"datum": 8.768, "type": "quantitative", "scale": {"domain": [0, 7.4], "nice": false, "zero": false}, "axis": null}}},
            {"data": {"values": [{}]}, "mark": {"type": "text", "text": "=350 GeV/c", "align": "left", "baseline": "alphabetic", "fontSize": 14.5, "font": "Liberation Serif", "color": "black", "clip": false},
              "encoding": {"x": {"datum": 3.242, "type": "quantitative", "scale": {"domain": [0.32, 15.5], "nice": false, "zero": false}, "axis": null}, "y": {"datum": 8.863, "type": "quantitative", "scale": {"domain": [0, 7.4], "nice": false, "zero": false}, "axis": null}}},
            {"data": {"values": [{}]}, "mark": {"type": "text", "text": "2", "align": "left", "baseline": "alphabetic", "fontSize": 10, "font": "Liberation Serif", "color": "black", "clip": false},
              "encoding": {"x": {"datum": 7.543, "type": "quantitative", "scale": {"domain": [0.32, 15.5], "nice": false, "zero": false}, "axis": null}, "y": {"datum": 8.977, "type": "quantitative", "scale": {"domain": [0, 7.4], "nice": false, "zero": false}, "axis": null}}},
            {"data": {"values": [{}]}, "mark": {"type": "text", "text": "<N", "align": "left", "baseline": "alphabetic", "fontSize": 14.5, "font": "Liberation Serif", "color": "black", "clip": false},
              "encoding": {"x": {"datum": 8.868, "type": "quantitative", "scale": {"domain": [0.32, 15.5], "nice": false, "zero": false}, "axis": null}, "y": {"datum": 8.863, "type": "quantitative", "scale": {"domain": [0, 7.4], "nice": false, "zero": false}, "axis": null}}},
            {"data": {"values": [{}]}, "mark": {"type": "text", "text": "S", "align": "left", "baseline": "alphabetic", "fontSize": 10, "font": "Liberation Serif", "color": "black", "clip": false},
              "encoding": {"x": {"datum": 9.989, "type": "quantitative", "scale": {"domain": [0.32, 15.5], "nice": false, "zero": false}, "axis": null}, "y": {"datum": 8.768, "type": "quantitative", "scale": {"domain": [0, 7.4], "nice": false, "zero": false}, "axis": null}}},
            {"data": {"values": [{}]}, "mark": {"type": "text", "text": "/N", "align": "left", "baseline": "alphabetic", "fontSize": 14.5, "font": "Liberation Serif", "color": "black", "clip": false},
              "encoding": {"x": {"datum": 10.326, "type": "quantitative", "scale": {"domain": [0.32, 15.5], "nice": false, "zero": false}, "axis": null}, "y": {"datum": 8.863, "type": "quantitative", "scale": {"domain": [0, 7.4], "nice": false, "zero": false}, "axis": null}}},
            {"data": {"values": [{}]}, "mark": {"type": "text", "text": "B", "align": "left", "baseline": "alphabetic", "fontSize": 10, "font": "Liberation Serif", "color": "black", "clip": false},
              "encoding": {"x": {"datum": 11.2, "type": "quantitative", "scale": {"domain": [0.32, 15.5], "nice": false, "zero": false}, "axis": null}, "y": {"datum": 8.768, "type": "quantitative", "scale": {"domain": [0, 7.4], "nice": false, "zero": false}, "axis": null}}},
            {"data": {"values": [{}]}, "mark": {"type": "text", "text": "> = 1/10", "align": "left", "baseline": "alphabetic", "fontSize": 14.5, "font": "Liberation Serif", "color": "black", "clip": false},
              "encoding": {"x": {"datum": 11.603, "type": "quantitative", "scale": {"domain": [0.32, 15.5], "nice": false, "zero": false}, "axis": null}, "y": {"datum": 8.863, "type": "quantitative", "scale": {"domain": [0, 7.4], "nice": false, "zero": false}, "axis": null}}}
          ],
          "resolve": {"axis": {"x": "independent", "y": "independent"}}
        },
        {
          "data": {"values": [{}]},
          "mark": {"type": "rule", "opacity": 0},
          "encoding": {
            "x": {"datum": 2, "type": "quantitative", "scale": {"domain": [0.22, 10.49], "nice": false, "zero": false},
              "axis": {"orient": "top", "values": [2, 4, 6, 8, 10], "format": "d", "tickSize": -7, "tickWidth": 1.5, "tickColor": "#7dba7d", "domain": true, "domainColor": "#5e9a5e", "domainWidth": 1.5, "labelFont": "Liberation Serif", "labelFontSize": 15, "labelFontWeight": "normal", "labelColor": "#6aa86a", "labelPadding": 9, "labelFlush": false, "labelOverlap": false, "title": "Integrated Luminosity (fb\u207b\u00b9)", "titleFont": "Liberation Serif", "titleFontSize": 17.5, "titleFontWeight": "normal", "titleColor": "#6aa86a", "titlePadding": 6, "grid": false, "zindex": 2}}
          }
        },
        {
          "data": {"values": [{}]},
          "mark": {"type": "rule", "opacity": 0},
          "encoding": {
            "x": {"datum": 2, "type": "quantitative", "scale": {"domain": [0.22, 10.49], "nice": false, "zero": false},
              "axis": {"orient": "top", "tickCount": 21, "tickSize": -4, "tickWidth": 1.2, "tickColor": "#7dba7d", "domain": false, "labels": false, "title": null, "grid": false, "zindex": 2}}
          }
        }
      ],
      "resolve": {"scale": {"x": "independent"}, "axis": {"x": "independent", "y": "independent"}}
    }
  ]
}
